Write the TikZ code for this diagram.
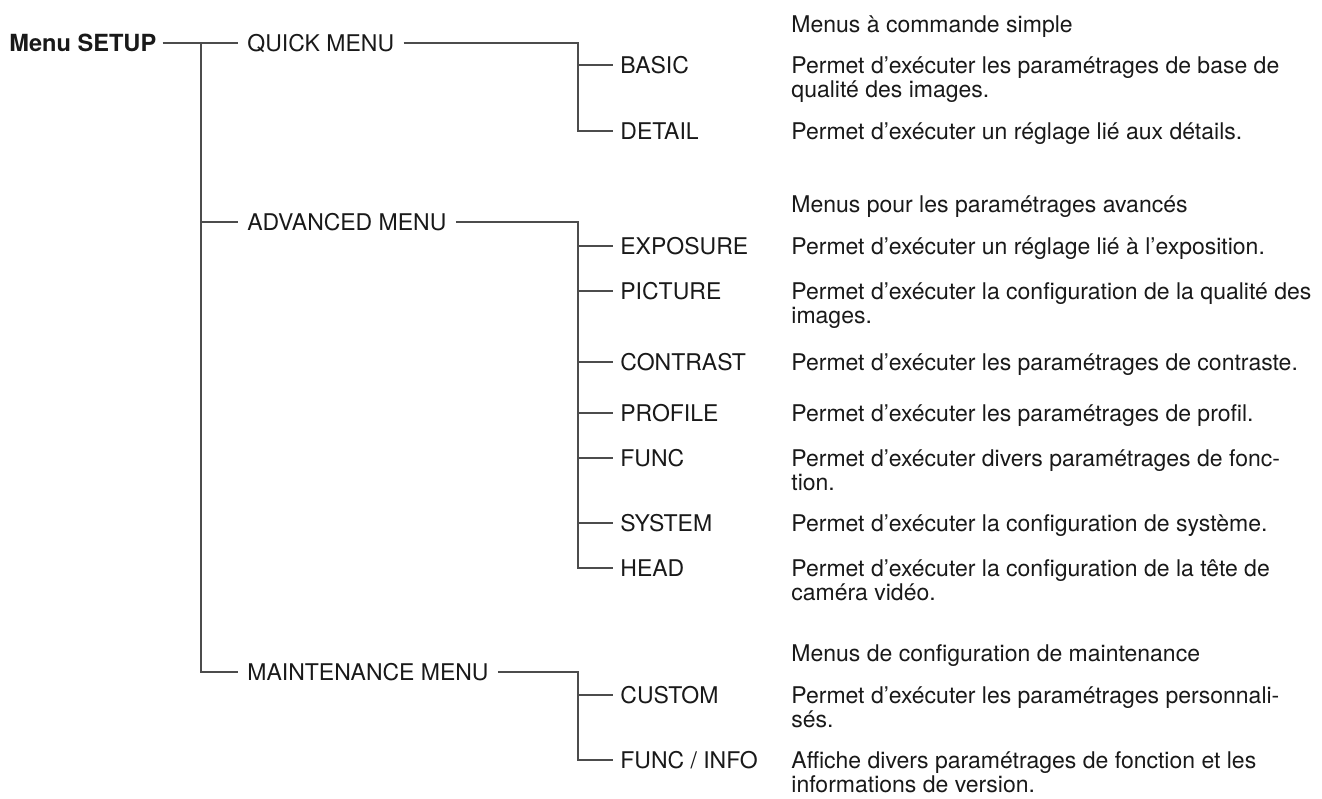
\documentclass[tikz,border=0pt]{standalone}
\usepackage{fontspec}
\setmainfont{TeX Gyre Heros}

\begin{document}
\begin{tikzpicture}[x=0.5pt,y=-0.5pt,
  every node/.style={font=\fontsize{11.5}{12}\selectfont,text=black!90,inner sep=0pt},
  menu/.style={anchor=west,inner xsep=4.5pt,text height=8.2pt,text depth=0pt},
  leaf/.style={anchor=west,inner xsep=3.5pt,text height=8.2pt,text depth=0pt},
  desc/.style={anchor=base west,align=left},
  link/.style={draw=black!70,line width=0.8pt}]
\useasboundingbox (0,0) rectangle (1322,798);
% root and first level
\node[menu,inner xsep=3pt,font=\fontsize{11.8}{12}\selectfont\bfseries] (setup) at (3,43){Menu SETUP};
\node[menu] (quick) at (238,43){QUICK MENU};
\node[menu] (adv) at (238,222){ADVANCED MENU};
\node[menu] (maint) at (238,672){MAINTENANCE MENU};
\coordinate (trk) at (200.7,43);
\draw[link] (setup.east)--(quick.west);
\draw[link] (trk) |- (adv.west);\draw[link] (trk) |- (maint.west);
% QUICK MENU (two-line texts sit on the baseline of their last line)
\node[leaf] (basic) at (613,65){BASIC};\node[leaf] (detail) at (613,131){DETAIL};
\coordinate (qs) at (578,43);
\draw[link] (quick.east)--(qs) |- (detail.west);\draw[link] (qs|-basic.west)--(basic.west);
\node[desc] (hquick) at (791,32){Menus à commande simple};
\node[desc] (dbasic) at (791,97){Permet d’exécuter les paramétrages de base de\\qualité des images.};
\node[desc] (ddetail) at (791,139){Permet d’exécuter un réglage lié aux détails.};
% ADVANCED MENU
\node[leaf] (expo) at (613,246){EXPOSURE};\node[leaf] (pict) at (613,291){PICTURE};
\node[leaf] (contr) at (613,362){CONTRAST};\node[leaf] (prof) at (613,413){PROFILE};
\node[leaf] (func) at (613,458){FUNC};\node[leaf] (syst) at (613,523){SYSTEM};
\node[leaf] (head) at (613,568){HEAD};
\coordinate (as) at (578,222);
\draw[link] (adv.east)--(as) |- (head.west);
\draw[link] (as|-expo.west)--(expo.west);\draw[link] (as|-pict.west)--(pict.west);
\draw[link] (as|-contr.west)--(contr.west);\draw[link] (as|-prof.west)--(prof.west);
\draw[link] (as|-func.west)--(func.west);\draw[link] (as|-syst.west)--(syst.west);
\node[desc] (hadv) at (791,212){Menus pour les paramétrages avancés};
\node[desc] (dexpo) at (791,254){Permet d’exécuter un réglage lié à l’exposition.};
\node[desc] (dpict) at (791,323){Permet d’exécuter la configuration de la qualité des\\images.};
\node[desc] (dcontr) at (791,370){Permet d’exécuter les paramétrages de contraste.};
\node[desc] (dprof) at (791,421){Permet d’exécuter les paramétrages de profil.};
\node[desc] (dfunc) at (791,490){Permet d’exécuter divers paramétrages de fonc-\\tion.};
\node[desc] (dsyst) at (791,531){Permet d’exécuter la configuration de système.};
\node[desc] (dhead) at (791,600){Permet d’exécuter la configuration de la tête de\\caméra vidéo.};
% MAINTENANCE MENU
\node[leaf] (cust) at (613,695){CUSTOM};\node[leaf] (info) at (613,760){FUNC / INFO};
\coordinate (ms) at (578,672);
\draw[link] (maint.east)--(ms) |- (info.west);\draw[link] (ms|-cust.west)--(cust.west);
\node[desc] (hmaint) at (791,661){Menus de configuration de maintenance};
\node[desc] (dcust) at (791,727){Permet d’exécuter les paramétrages personnali-\\sés.};
\node[desc] (dinfo) at (791,792){Affiche divers paramétrages de fonction et les\\informations de version.};
\end{tikzpicture}
\end{document}
